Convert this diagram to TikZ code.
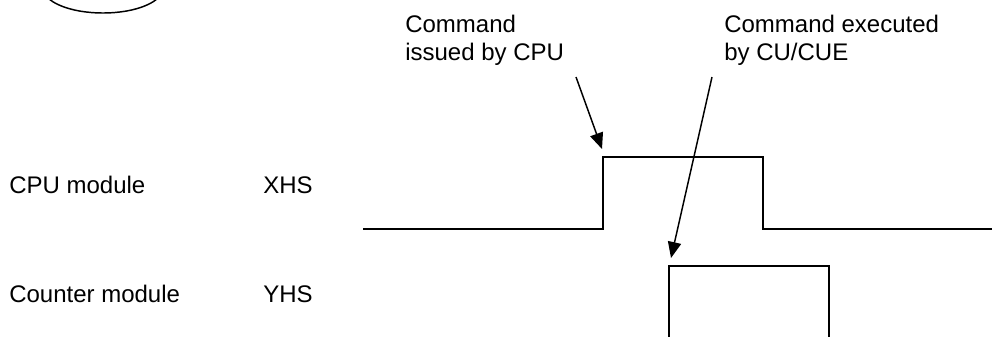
\documentclass[tikz,border=0pt]{standalone}
\usepackage{fontspec}
\setmainfont{Liberation Sans}
\usetikzlibrary{arrows.meta}

\begin{document}
\begin{tikzpicture}[
  x=0.75pt,y=-0.75pt,
  every node/.style={font=\fontsize{18pt}{21pt}\selectfont,inner sep=0pt,anchor=base west},
  wave/.style={draw=black,line width=1.1pt},
  arr/.style={-{Triangle[length=12pt,width=10pt]},draw=black,line width=1.1pt}
]
\clip (0,0) rectangle (992,336);
% page frame
\draw[line width=1.1pt] (103,-12) ellipse [x radius=60,y radius=25];
% labels
\node (cpu) at (9,193) {CPU module};
\node (xhs) at (263,193) {XHS};
\node (cnt) at (9,302) {Counter module};
\node (yhs) at (263,302) {YHS};
\node[align=left] (issued) at (405,60) {Command\\issued by CPU};
\node[align=left] (executed) at (724,60) {Command executed\\by CU/CUE};
% signals
\draw[wave] (363,229) -- (603,229) -- (603,157) -- (763,157) -- (763,229) -- (995,229);
\draw[wave] (669,340) -- (669,266) -- (829,266) -- (829,340);
% pointers
\coordinate (issuedfrom) at (576,77);
\coordinate (issuedto) at (602,149);
\coordinate (executedfrom) at (712,77);
\coordinate (executedto) at (671,258);
\draw[arr] (issuedfrom) -- (issuedto);
\draw[arr] (executedfrom) -- (executedto);
\end{tikzpicture}
\end{document}
